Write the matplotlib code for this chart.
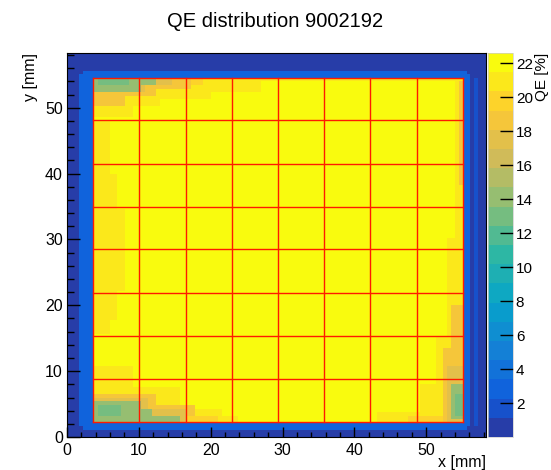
import numpy as np
import matplotlib
matplotlib.use("Agg")
import matplotlib.pyplot as plt
from matplotlib.colors import LinearSegmentedColormap, ListedColormap, BoundaryNorm
from matplotlib.ticker import MultipleLocator

plt.rcParams["font.family"] = ["Liberation Sans", "DejaVu Sans"]

# detector map, 0.54 mm bins over 0..58.32 mm
n_bins = 108
x_max = 58.32
z_min, z_max = 0.0, 22.6
n_levels = 20
background_qe = 0.4

# painted in order: x0, x1, y0, y1 [mm] and QE [%]
rect_x0 = [2.2, 1.5, 56.8, 3.0, 3.6, 17.0,
           3.6, 3.6, 6.0,
           3.6, 3.6, 3.6, 3.6, 3.6, 3.6, 3.6, 3.6, 3.6, 3.6, 3.6, 3.6, 4.5,
           3.6, 3.6, 3.6, 3.6, 3.6, 3.6, 3.6, 3.6, 3.6, 3.6, 3.6, 3.6, 4.2,
           43.0, 49.0, 51.5, 52.8, 47.5, 52.3, 53.3, 52.8, 53.4, 54.0,
           53.8, 54.3]
rect_x1 = [55.6, 56.2, 57.4, 55.7, 55.1, 55.1,
           6.0, 8.2, 7.2,
           27.0, 20.0, 13.0, 9.0, 19.0, 17.5, 12.5, 8.0, 14.5, 11.0, 12.5, 10.0, 8.5,
           9.0, 15.5, 21.5, 24.0, 12.5, 18.0, 21.0, 11.5, 16.5, 10.5, 12.0, 15.5, 7.8,
           55.1, 55.1, 55.1, 55.1, 55.1, 55.1, 55.1, 55.1, 55.1, 55.1,
           55.1, 55.1]
rect_y0 = [1.1, 1.7, 1.5, 1.7, 2.3, 54.1,
           15.8, 22.3, 18.0,
           52.6, 51.5, 50.0, 48.8, 53.6, 53.0, 51.8, 50.4, 53.3, 52.3, 53.4, 52.2, 53.2,
           6.0, 2.3, 2.3, 2.3, 2.3, 2.3, 2.3, 2.3, 2.3, 2.3, 2.3, 2.3, 3.3,
           2.3, 2.3, 2.3, 15.0, 2.3, 2.3, 13.5, 2.3, 2.8, 3.0,
           30.0, 38.5]
rect_y1 = [55.8, 55.2, 54.5, 55.2, 54.6, 54.6,
           48.0, 34.5, 40.0,
           54.6, 54.6, 54.6, 54.6, 54.6, 54.6, 54.6, 54.6, 54.6, 54.6, 54.6, 54.6, 54.3,
           11.0, 7.6, 4.5, 3.2, 6.6, 4.6, 3.3, 6.0, 4.2, 5.3, 4.4, 3.5, 4.8,
           4.0, 8.0, 15.0, 30.0, 3.2, 13.5, 20.0, 11.0, 8.2, 6.5,
           54.0, 53.8]
rect_qe = [2.8, 2.8, 1.6, 2.8, 22.2, 20.9,
           20.9, 20.9, 20.9,
           20.9, 20.9, 20.9, 20.9, 19.8, 19.0, 19.0, 18.5, 17.5, 17.0, 14.2, 14.0, 13.0,
           20.9, 20.9, 20.9, 20.9, 19.0, 19.0, 19.3, 17.3, 17.3, 14.2, 14.2, 14.5, 13.0,
           20.9, 20.9, 20.9, 20.9, 19.3, 19.0, 19.0, 17.3, 14.5, 13.2,
           20.9, 18.5]

# 8x8 pad grid
grid_x = [3.6, 10.0, 16.5, 22.9, 29.4, 35.8, 42.2, 48.7, 55.1]
grid_y = [2.3, 8.8, 15.4, 21.9, 28.5, 35.0, 41.5, 48.1, 54.6]

cbar_ticks = [2, 4, 6, 8, 10, 12, 14, 16, 18, 20, 22]

# build the map
edges = np.linspace(0, x_max, n_bins + 1)
centers = 0.5 * (edges[:-1] + edges[1:])
cx, cy = np.meshgrid(centers, centers)
qe = np.full((n_bins, n_bins), background_qe)
for x0, x1, y0, y1, v in zip(rect_x0, rect_x1, rect_y0, rect_y1, rect_qe):
    qe[(cx >= x0) & (cx < x1) & (cy >= y0) & (cy < y1)] = v

# ROOT kBird palette
stops = np.linspace(0, 1, 9)
red = [0.2082, 0.0592, 0.0780, 0.0232, 0.1802, 0.5301, 0.8186, 0.9956, 0.9764]
green = [0.1664, 0.3599, 0.5041, 0.6419, 0.7178, 0.7492, 0.7328, 0.7862, 0.9832]
blue = [0.5293, 0.8684, 0.8385, 0.7914, 0.6425, 0.4662, 0.3499, 0.1968, 0.0539]
bird = LinearSegmentedColormap.from_list("bird", list(zip(stops, zip(red, green, blue))))
cols = [bird(min((i + 0.99) / n_levels, 1.0)) for i in range(n_levels)]
cmap = ListedColormap(cols)
norm = BoundaryNorm(np.linspace(z_min, z_max, n_levels + 1), n_levels)

fig = plt.figure(figsize=(5.51, 4.70), dpi=100)
ax = fig.add_axes([0.1216, 0.0702, 0.7604, 0.817])
mesh = ax.pcolormesh(edges, edges, qe, cmap=cmap, norm=norm)

for gx in grid_x:
    ax.plot([gx, gx], [grid_y[0], grid_y[-1]], color="#ff1a00", lw=1.0)
for gy in grid_y:
    ax.plot([grid_x[0], grid_x[-1]], [gy, gy], color="#ff1a00", lw=1.0)

ax.set_xlim(0, x_max)
ax.set_ylim(0, x_max)
ax.xaxis.set_major_locator(MultipleLocator(10))
ax.xaxis.set_minor_locator(MultipleLocator(2))
ax.yaxis.set_major_locator(MultipleLocator(10))
ax.yaxis.set_minor_locator(MultipleLocator(2))
ax.tick_params(axis="x", which="major", direction="in", length=7.5, width=1.0,
               labelsize=11.5, pad=4, top=False)
ax.tick_params(axis="x", which="minor", direction="in", length=3.8, width=1.0, top=False)
ax.tick_params(axis="y", which="major", direction="in", length=9.5, width=1.0,
               labelsize=11.5, pad=3, right=False)
ax.tick_params(axis="y", which="minor", direction="in", length=5, width=1.0, right=False)
for s in ax.spines.values():
    s.set_linewidth(0.8)

fig.text(0.5, 0.955, "QE distribution 9002192", ha="center", va="center", fontsize=14.5)
fig.text(0.882, 0.0, "x [mm]", ha="right", va="bottom", fontsize=11.5)
fig.text(0.055, 0.8872, "y [mm]", ha="center", va="top", rotation=90, fontsize=11.5)

cax = fig.add_axes([0.8857, 0.0702, 0.0454, 0.817])
cb = fig.colorbar(mesh, cax=cax, ticks=cbar_ticks)
cb.outline.set_linewidth(0.5)
cb.outline.set_edgecolor("#cccccc")
cax.tick_params(direction="in", length=9.5, width=1.0, labelsize=11, pad=2)
cax.minorticks_off()
fig.text(0.984, 0.8872, "QE [%]", ha="center", va="top", rotation=90, fontsize=11)

fig.savefig("out.png", dpi=100)
